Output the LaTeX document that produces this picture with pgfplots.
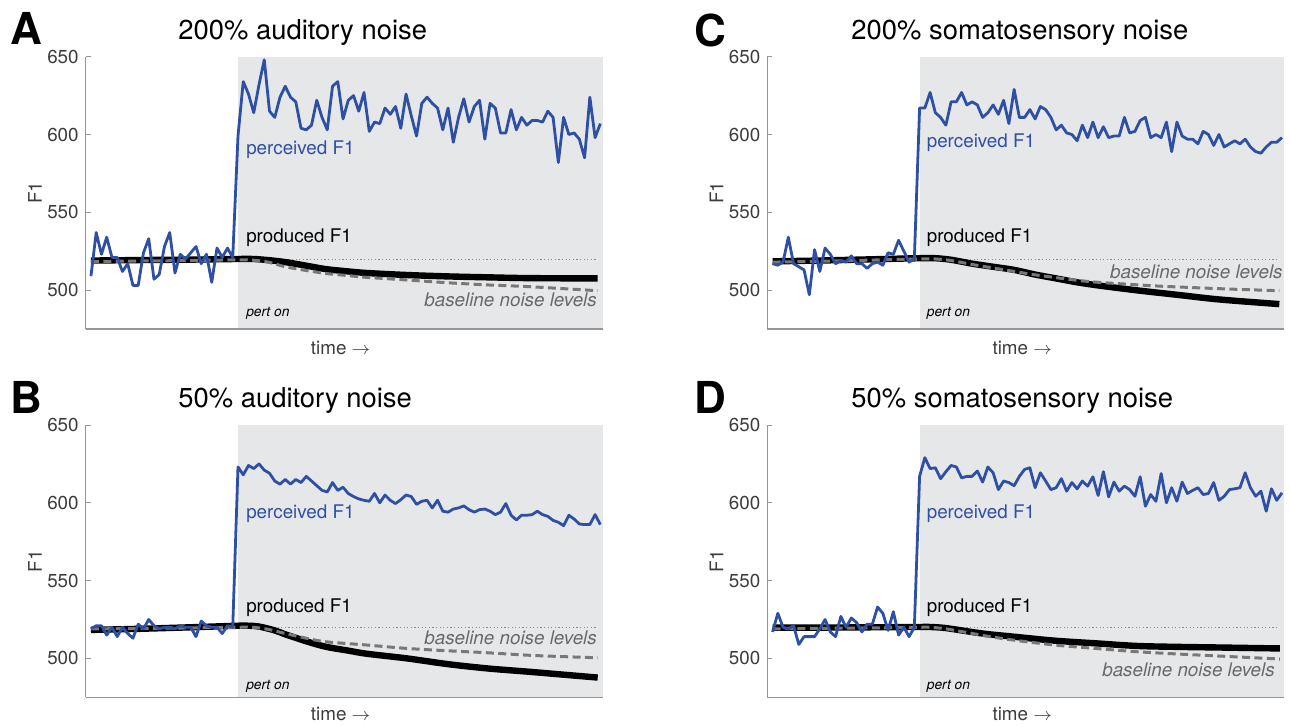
\documentclass[border=0pt]{standalone}
\usepackage{fontspec}
\setmainfont{TeX Gyre Heros}
\usepackage{pgfplots}
\usepackage{pgfplotstable}
\pgfplotsset{compat=1.18}
\definecolor{shade}{RGB}{230,231,233}
\definecolor{pblue}{RGB}{45,80,165}
\definecolor{dgray}{RGB}{120,120,120}
\definecolor{dotgray}{RGB}{140,140,140}
\definecolor{axgray}{RGB}{150,150,150}
\definecolor{tickgray}{RGB}{60,60,60}
\definecolor{txtgray}{RGB}{105,105,105}
\newcommand{\annfont}{\fontsize{9.4}{11}\selectfont}
\newcommand{\titfont}{\fontsize{13.7}{15}\selectfont}
\newcommand{\letfont}{\fontsize{22}{24}\selectfont\bfseries}

% perceived F1 (blue), one value per trial, trials 1..98
\pgfplotstableread{
y
509
537
523
534
521
521
512
517
503
503
524
533
507
510
528
537
511
523
520
524
528
517
523
505
527
521
527
521
599
634
626
614
632
648
615
611
624
631
624
621
604
603
606
622
611
603
631
634
610
622
625
615
627
602
608
607
617
613
618
604
626
612
599
620
624
620
617
603
617
595
611
623
608
618
622
597
620
617
601
601
616
603
611
606
609
609
608
615
611
582
611
600
601
597
585
624
598
607
}\blueA

\pgfplotstableread{
y
519
521
521
515
520
514
520
516
513
522
519
525
521
519
520
520
519
521
520
520
514
524
521
520
520
516
521
520
623
618
624
622
625
621
619
614
612
615
612
615
613
617
614
611
608
607
613
608
610
606
604
602.5
601.6
601
606
600
605
601.6
599.5
602
605
604
599
601
601.6
596.7
601.6
594.6
594
596
596.7
598
595.6
594
595.6
596
594.6
592.4
594
599.5
592
589
592
592
592.4
594.6
592.4
591.3
588.7
587.5
585.3
592
589.6
586.4
586
586
592.4
586
}\blueB

\pgfplotstableread{
y
517
516
518
534
517
515
513
497
526
512
527
523
517
519
518
522
517
517
514
517
518
516
524
523
532
525
518
520
617
617
627
614
611
606
621
621
627
619
621
619
611
614
619
613
622
607
629
611
611
616
610
618
616
611
603
606
601
600
596
606
598
608
598
605
598
599
599
611
601
602
609
611
598
600
598
608
589
608
599
597
597
594
602
600
593
600
592
594
596
594
597
592
589
588
592
595
595
598
}\blueC

\pgfplotstableread{
y
517
529
520
519
521
509
514
514
514
519
525
517
514
527
520
526
523
517
522
522
533
529
518
530
515
520
514
520
617
629
622
622.5
615.5
620
624
623
616
617
617
620.4
613.3
623
619.3
608.5
614
613
611
617
621.5
622.5
609.7
619.3
614
608.5
609.7
615.5
607.5
613
609
614
610.7
616.7
604.7
620
603.8
613.3
607.5
610.7
608.5
604.2
616.7
597.8
605.3
601
618.8
600
609.7
601
613.3
606
608
609.7
605.3
606
613
601.6
604.2
608.5
609
609.7
619.3
609.7
604.2
607.5
594.6
609
601.6
606.4
}\blueD

\pgfplotsset{
  panel/.style={
    scale only axis, width=258.5pt, height=136.15pt,
    anchor=south west,
    xmin=0, xmax=98.45, ymin=475, ymax=650,
    axis x line*=bottom, axis y line*=left,
    axis line style={axgray, line width=0.6pt},
    xtick=\empty, ytick={500,550,600,650},
    tick align=inside, major tick length=2.5pt,
    every tick/.style={axgray, line width=0.5pt},
    yticklabel style={font=\annfont, text=tickgray},
    /pgf/number format/assume math mode=true,
    axis on top, clip=false,
  },
  shadeplot/.style={fill=shade, draw=none},
  dotline/.style={dotgray, line width=0.5pt, dash pattern=on 0.6pt off 1.2pt},
  prodline/.style={black, line width=3.2pt, smooth},
  baseline/.style={dgray, line width=1.5pt, dash pattern=on 4pt off 2.2pt, smooth},
  percline/.style={pblue, line width=1.4pt, line join=round},
}

\begin{document}
\begin{tikzpicture}
\useasboundingbox (0,0) rectangle (645pt,362.5pt);

%%%%%%%%%%%% A %%%%%%%%%%%%
\begin{axis}[panel, at={(42.85pt,198pt)}]
\addplot[shadeplot] coordinates {(29,475) (98.45,475) (98.45,650) (29,650)};
\addplot[dotline] coordinates {(29,519.8) (97.5,519.8)};
\addplot[prodline] coordinates {(1,519) (10,519.3) (20,519.6) (29,520) (32,520) (35,519.2) (38,518) (42,515.7) (45.7,513.5) (50,512) (53.5,511) (61.2,509.7) (69,508.8) (76.7,508.2) (84.5,507.7) (97.5,507.5)};
\addplot[baseline] coordinates {(1,518.3) (10,518.7) (20,519) (29,519.5) (32,519.2) (35,517.8) (38,515) (42,512.6) (45.7,510.7) (50,509.3) (53.5,508.2) (61.2,506.5) (69,504.7) (76.7,503.3) (84.5,502.2) (97.5,499.6)};
\addplot[percline] table[x expr=\coordindex+1, y=y] {\blueA};
\node[anchor=west, inner sep=0, text=pblue, font=\annfont] at (axis cs:30.5,590) {perceived F1};
\node[anchor=west, inner sep=0, font=\annfont] at (axis cs:30.5,533.5) {produced F1};
\node[anchor=east, inner sep=0, text=txtgray, font=\annfont\itshape] at (axis cs:97.4,493.6) {baseline noise levels};
\node[anchor=west, inner sep=0, font=\fontsize{6.9}{8}\selectfont\itshape] at (axis cs:30.5,485.3) {pert on};
\node[rotate=90, font=\annfont, text=tickgray] at (axis description cs:-0.098,0.5) {F1};
\node[font=\annfont, text=tickgray] at (axis description cs:0.493,-0.07) {time $\rightarrow$};
\node[anchor=base west, inner sep=0, font=\titfont] at (axis description cs:0.1785,1.0624) {200\% auditory noise};
\node[anchor=base west, inner sep=0, font=\letfont] at (axis description cs:-0.146,1.043) {A};
\end{axis}

%%%%%%%%%%%% B %%%%%%%%%%%%
\begin{axis}[panel, at={(42.85pt,13.85pt)}]
\addplot[shadeplot] coordinates {(29,475) (98.45,475) (98.45,650) (29,650)};
\addplot[dotline] coordinates {(29,519.8) (97.5,519.8)};
\addplot[prodline] coordinates {(1,518.3) (10,519) (20,520) (29,521) (31,521) (33,520.5) (36,518) (38,515.5) (42,511) (45.7,507.5) (50,505) (53.5,503) (61.2,500) (69,496.3) (76.7,493.5) (84.5,491.4) (92.2,489.2) (97.5,487.7)};
\addplot[baseline] coordinates {(1,519) (10,519.2) (20,519.6) (29,520) (32,520) (35,518.5) (38,516) (42,513) (45.7,510.7) (53.5,508.6) (61.2,506.4) (69,504.9) (76.7,503.6) (84.5,502) (92.2,501) (97.5,500.4)};
\addplot[percline] table[x expr=\coordindex+1, y=y] {\blueB};
\node[anchor=west, inner sep=0, text=pblue, font=\annfont] at (axis cs:30.5,592.8) {perceived F1};
\node[anchor=west, inner sep=0, font=\annfont] at (axis cs:30.5,532.4) {produced F1};
\node[anchor=east, inner sep=0, text=txtgray, font=\annfont\itshape] at (axis cs:97.4,513) {baseline noise levels};
\node[anchor=west, inner sep=0, font=\fontsize{6.9}{8}\selectfont\itshape] at (axis cs:30.5,482.3) {pert on};
\node[rotate=90, font=\annfont, text=tickgray] at (axis description cs:-0.098,0.5) {F1};
\node[font=\annfont, text=tickgray] at (axis description cs:0.493,-0.063) {time $\rightarrow$};
\node[anchor=base west, inner sep=0, font=\titfont] at (axis description cs:0.1785,1.066) {50\% auditory noise};
\node[anchor=base west, inner sep=0, font=\letfont] at (axis description cs:-0.146,1.044) {B};
\end{axis}

%%%%%%%%%%%% C %%%%%%%%%%%%
\begin{axis}[panel, at={(383.65pt,198pt)}]
\addplot[shadeplot] coordinates {(29,475) (98.45,475) (98.45,650) (29,650)};
\addplot[dotline] coordinates {(29,519.8) (97.5,519.8)};
\addplot[prodline] coordinates {(1,518.5) (10,519) (20,519.8) (29,520.5) (32,520.5) (35,519.5) (39,517) (43,515) (47,513) (51,510) (55,507.5) (59,505) (63,503) (70,500) (78,497) (86,494) (97.5,491)};
\addplot[baseline] coordinates {(1,518) (10,518.5) (20,519.3) (29,520) (32,520) (35,519) (39,516.5) (43,514.2) (47,512) (51,509.8) (55,508) (59,506.3) (63,505) (69,503.7) (75,502.5) (87,500.8) (97.5,499.6)};
\addplot[percline] table[x expr=\coordindex+1, y=y] {\blueC};
\node[anchor=west, inner sep=0, text=pblue, font=\annfont] at (axis cs:30.3,594.5) {perceived F1};
\node[anchor=west, inner sep=0, font=\annfont] at (axis cs:30.3,533.5) {produced F1};
\node[anchor=east, inner sep=0, text=txtgray, font=\annfont\itshape] at (axis cs:98.2,511.7) {baseline noise levels};
\node[anchor=west, inner sep=0, font=\fontsize{6.9}{8}\selectfont\itshape] at (axis cs:30.3,485.3) {pert on};
\node[rotate=90, font=\annfont, text=tickgray] at (axis description cs:-0.098,0.5) {F1};
\node[font=\annfont, text=tickgray] at (axis description cs:0.493,-0.07) {time $\rightarrow$};
\node[anchor=base west, inner sep=0, font=\titfont] at (axis description cs:0.162,1.0624) {200\% somatosensory noise};
\node[anchor=base west, inner sep=0, font=\letfont] at (axis description cs:-0.1418,1.039) {C};
\end{axis}

%%%%%%%%%%%% D %%%%%%%%%%%%
\begin{axis}[panel, at={(383.65pt,13.85pt)}]
\addplot[shadeplot] coordinates {(29,475) (98.45,475) (98.45,650) (29,650)};
\addplot[dotline] coordinates {(29,519.8) (97.5,519.8)};
\addplot[prodline] coordinates {(1,519.8) (10,519.8) (20,520) (29,520.2) (31,520.2) (34,519.5) (38.9,517) (42,515.6) (46.8,514) (54.7,511.4) (62.5,509.7) (70.4,508) (78.3,507.4) (86.2,507) (97.6,506.4)};
\addplot[baseline] coordinates {(1,519) (10,519.3) (20,519.6) (29,520) (31,520) (34,519) (38.9,516.1) (42,514.2) (46.8,511.8) (54.7,508.6) (62.5,506.4) (70.4,504.3) (78.3,502.8) (86.2,501.5) (97.6,499.6)};
\addplot[percline] table[x expr=\coordindex+1, y=y] {\blueD};
\node[anchor=west, inner sep=0, text=pblue, font=\annfont] at (axis cs:30.3,592.8) {perceived F1};
\node[anchor=west, inner sep=0, font=\annfont] at (axis cs:30.3,532.4) {produced F1};
\node[anchor=east, inner sep=0, text=txtgray, font=\annfont\itshape] at (axis cs:96.7,492.5) {baseline noise levels};
\node[anchor=west, inner sep=0, font=\fontsize{6.9}{8}\selectfont\itshape] at (axis cs:30.3,482.3) {pert on};
\node[rotate=90, font=\annfont, text=tickgray] at (axis description cs:-0.098,0.5) {F1};
\node[font=\annfont, text=tickgray] at (axis description cs:0.493,-0.063) {time $\rightarrow$};
\node[anchor=base west, inner sep=0, font=\titfont] at (axis description cs:0.162,1.066) {50\% somatosensory noise};
\node[anchor=base west, inner sep=0, font=\letfont] at (axis description cs:-0.1418,1.044) {D};
\end{axis}
\end{tikzpicture}
\end{document}
